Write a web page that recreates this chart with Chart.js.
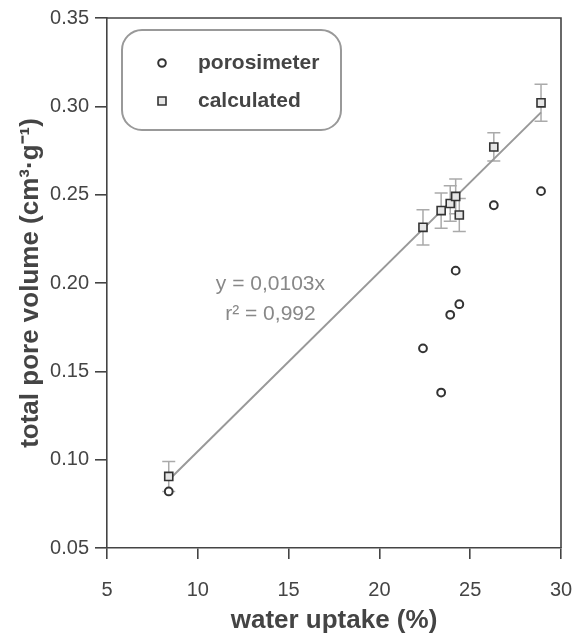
<!DOCTYPE html>
<html>
<head>
<meta charset="utf-8">
<script src="https://cdn.jsdelivr.net/npm/chart.js@4"></script>
<style>
  html, body { margin: 0; padding: 0; background: #fff; }
  #wrap { width: 577px; height: 636px; }
</style>
</head>
<body>
<div id="wrap"><canvas id="c" width="577" height="636"></canvas></div>
<script>
// ---- data ----
const waterUptake = [8.4, 22.4, 23.4, 23.9, 24.2, 24.4, 26.3, 28.9];
const porosimeterVolume = [0.082, 0.163, 0.138, 0.182, 0.207, 0.188, 0.244, 0.252];
const calculatedVolume = [0.0905, 0.2315, 0.241, 0.245, 0.249, 0.2385, 0.277, 0.302];
const calculatedError = [0.0085, 0.010, 0.010, 0.010, 0.0098, 0.0094, 0.008, 0.0105];
const fitLineX = [8.5, 28.9];
const fitLineY = [0.0895, 0.2966];
const xTickValues = [5, 10, 15, 20, 25, 30];
const yTickLabels = ['0.05', '0.10', '0.15', '0.20', '0.25', '0.30', '0.35'];
const seriesLabels = ['porosimeter', 'calculated'];
const equationLines = ['y = 0,0103x', 'r\u00B2 = 0,992'];
const equationAnchor = [14.0, 0.1995];

const FONT = "'Liberation Sans', Arial, Helvetica, sans-serif";
const TXT = '#444444';
const AXIS = '#444444';

const toPts = (xs, ys) => xs.map((v, i) => ({x: v, y: ys[i]}));

const errorBars = {
  id: 'errorBars',
  beforeDatasetsDraw(chart) {
    const {ctx, scales: {x, y}} = chart;
    ctx.save();
    ctx.strokeStyle = '#aaaaaa';
    ctx.lineWidth = 1.5;
    for (let i = 0; i < waterUptake.length; i++) {
      const px = x.getPixelForValue(waterUptake[i]);
      const t = y.getPixelForValue(calculatedVolume[i] + calculatedError[i]);
      const b = y.getPixelForValue(calculatedVolume[i] - calculatedError[i]);
      ctx.beginPath();
      ctx.moveTo(px, t); ctx.lineTo(px, b);
      ctx.moveTo(px - 6.5, t); ctx.lineTo(px + 6.5, t);
      ctx.moveTo(px - 6.5, b); ctx.lineTo(px + 6.5, b);
      ctx.stroke();
    }
    ctx.restore();
  }
};

const frame = {
  id: 'frame',
  afterDatasetsDraw(chart) {
    const {ctx, chartArea: a} = chart;
    ctx.save();
    ctx.strokeStyle = AXIS;
    ctx.lineWidth = 1.6;
    ctx.beginPath();
    ctx.moveTo(a.left, a.top); ctx.lineTo(a.right, a.top); ctx.lineTo(a.right, a.bottom);
    ctx.stroke();
    ctx.restore();
  }
};

const annotations = {
  id: 'annotations',
  afterDraw(chart) {
    const {ctx, scales: {x, y}} = chart;
    ctx.save();
    // equation
    ctx.fillStyle = '#888888';
    ctx.font = '21px ' + FONT;
    ctx.textAlign = 'center';
    ctx.textBaseline = 'middle';
    const ex = x.getPixelForValue(equationAnchor[0]);
    const ey = y.getPixelForValue(equationAnchor[1]);
    ctx.fillText(equationLines[0], ex, ey);
    ctx.fillText(equationLines[1], ex, ey + 30);

    // legend box
    ctx.strokeStyle = '#999999';
    ctx.lineWidth = 2;
    ctx.beginPath();
    ctx.roundRect(122, 30, 219, 100, 20);
    ctx.stroke();

    // legend markers
    ctx.strokeStyle = '#333333';
    ctx.lineWidth = 2;
    ctx.fillStyle = '#ffffff';
    ctx.beginPath();
    ctx.arc(162, 63, 3.8, 0, Math.PI * 2);
    ctx.fill(); ctx.stroke();
    ctx.lineWidth = 1.6;
    ctx.fillStyle = '#e6e6e6';
    ctx.beginPath();
    ctx.rect(158, 97, 8, 8);
    ctx.fill(); ctx.stroke();

    ctx.fillStyle = TXT;
    ctx.font = 'bold 21px ' + FONT;
    ctx.textAlign = 'left';
    ctx.fillText(seriesLabels[0], 198, 63);
    ctx.fillText(seriesLabels[1], 198, 101);
    ctx.restore();
  }
};

new Chart(document.getElementById('c'), {
  type: 'scatter',
  data: {
    datasets: [
      {
        label: seriesLabels[0],
        data: toPts(waterUptake, porosimeterVolume),
        pointStyle: 'circle',
        pointRadius: 3.9,
        pointBorderWidth: 2,
        borderColor: '#333333',
        backgroundColor: '#ffffff'
      },
      {
        label: seriesLabels[1],
        data: toPts(waterUptake, calculatedVolume),
        pointStyle: 'rect',
        pointRadius: 5.7,
        pointBorderWidth: 1.6,
        borderColor: '#333333',
        backgroundColor: '#e6e6e6'
      },
      {
        label: 'fit',
        data: toPts(fitLineX, fitLineY),
        showLine: true,
        pointRadius: 0,
        borderColor: '#999999',
        borderWidth: 2,
        fill: false
      }
    ]
  },
  options: {
    responsive: false,
    animation: false,
    devicePixelRatio: 1,
    layout: { padding: { top: 18, right: 16, left: 0, bottom: 0 } },
    plugins: { legend: { display: false }, tooltip: { enabled: false } },
    scales: {
      x: {
        type: 'linear',
        min: 5, max: 30,
        afterBuildTicks: s => { s.ticks = xTickValues.map(v => ({value: v})); },
        afterFit: s => { s.height = 88; s.paddingLeft = 0; s.paddingRight = 0; },
        ticks: { color: TXT, font: { family: FONT, size: 20 }, padding: 19, callback: v => String(v) },
        grid: { drawOnChartArea: false, drawTicks: true, tickLength: 11, color: AXIS, lineWidth: 1.6 },
        border: { display: true, color: AXIS, width: 1.6 },
        title: { display: true, text: 'water uptake (%)', color: TXT, font: { family: FONT, size: 26, weight: 'bold' }, padding: { top: 0, bottom: 0 } }
      },
      y: {
        type: 'linear',
        min: 0.05, max: 0.35,
        afterBuildTicks: s => { s.ticks = yTickLabels.map(l => ({value: parseFloat(l)})); },
        afterFit: s => { s.width = 107; s.paddingTop = 0; s.paddingBottom = 0; },
        ticks: { color: TXT, font: { family: FONT, size: 20 }, padding: 6,
                 callback: (v, i) => yTickLabels[i] },
        grid: { drawOnChartArea: false, drawTicks: true, tickLength: 12, color: AXIS, lineWidth: 1.6 },
        border: { display: true, color: AXIS, width: 1.6 },
        title: { display: true, text: 'total pore volume (cm\u00B3\u00B7g\u207B\u00B9)', color: TXT, font: { family: FONT, size: 26, weight: 'bold' }, padding: { top: 15, bottom: 0 } }
      }
    }
  },
  plugins: [errorBars, frame, annotations]
});
</script>
</body>
</html>
